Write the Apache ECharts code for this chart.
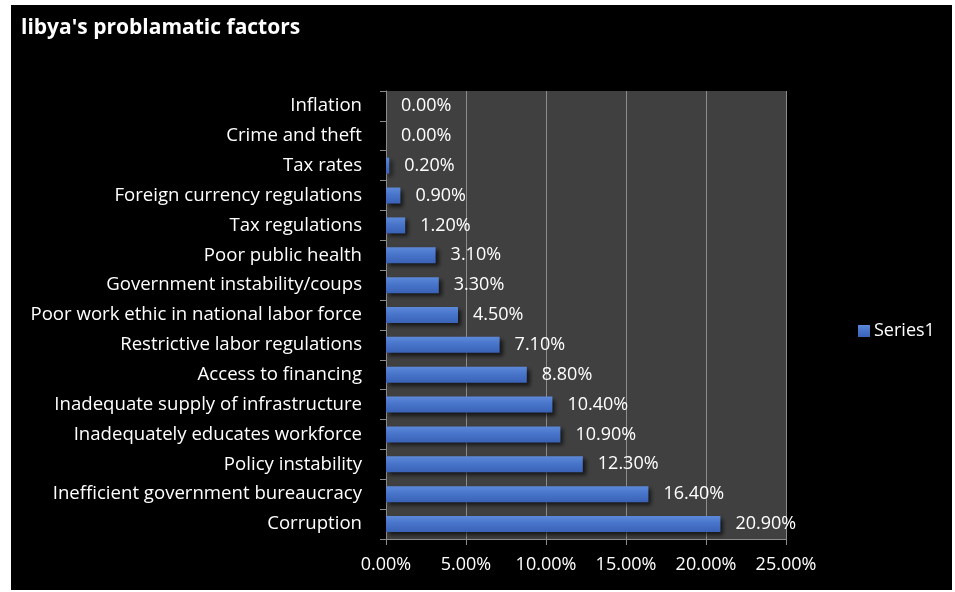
<!DOCTYPE html>
<html>
<head>
<meta charset="utf-8">
<script src="https://cdn.jsdelivr.net/npm/echarts@6/dist/echarts.min.js"></script>
<style>
  html, body { margin: 0; padding: 0; background: #ffffff; }
  #chart { width: 955px; height: 592px; }
</style>
</head>
<body>
<div id="chart"></div>
<script>
// Problematic factors for doing business in Libya (share of responses, %)
const factors = [
  'Inflation',
  'Crime and theft',
  'Tax rates',
  'Foreign currency regulations',
  'Tax regulations',
  'Poor public health',
  'Government instability/coups',
  'Poor work ethic in national labor force',
  'Restrictive labor regulations',
  'Access to financing',
  'Inadequate supply of infrastructure',
  'Inadequately educates workforce',
  'Policy instability',
  'Inefficient government bureaucracy',
  'Corruption'
];
const series1 = [0.0, 0.0, 0.2, 0.9, 1.2, 3.1, 3.3, 4.5, 7.1, 8.8, 10.4, 10.9, 12.3, 16.4, 20.9];
const xTicks = [0, 5, 10, 15, 20, 25];

const FONT = '"Open Sans", "Liberation Sans", sans-serif';
const chart = echarts.init(document.getElementById('chart'), null, { renderer: 'canvas' });

chart.setOption({
  backgroundColor: '#ffffff',
  animation: false,
  textStyle: { fontFamily: FONT },
  graphic: [{
    type: 'rect',
    z: -10,
    shape: { x: 11, y: 5, width: 941, height: 585 },
    style: { fill: '#000000' },
    silent: true
  }],
  title: {
    text: "libya's problamatic factors",
    left: 16,
    top: 13,
    textStyle: { color: '#ffffff', fontSize: 21, fontWeight: 'bold', fontFamily: FONT }
  },
  legend: {
    left: 853,
    top: 317,
    orient: 'vertical',
    icon: 'rect',
    itemWidth: 12,
    itemHeight: 12,
    itemGap: 6,
    textStyle: { color: '#ffffff', fontSize: 18, fontFamily: FONT, padding: [0, 0, 0, -1] },
    data: ['Series1']
  },
  grid: {
    left: 386,
    top: 91,
    width: 400,
    height: 448,
    show: true,
    backgroundColor: '#404040',
    borderWidth: 0,
    containLabel: false
  },
  xAxis: {
    type: 'value',
    min: xTicks[0],
    max: xTicks[xTicks.length - 1],
    interval: xTicks[1] - xTicks[0],
    axisLine: { show: true, lineStyle: { color: '#8c8c8c', width: 1 } },
    axisTick: { show: true, length: 6, lineStyle: { color: '#8c8c8c' } },
    splitLine: { show: true, lineStyle: { color: '#8c8c8c', width: 1 } },
    axisLabel: {
      color: '#ffffff',
      fontSize: 18,
      fontFamily: FONT,
      margin: 17,
      formatter: v => v.toFixed(2) + '%'
    }
  },
  yAxis: {
    type: 'category',
    inverse: true,
    data: factors,
    axisLine: { show: true, lineStyle: { color: '#8c8c8c', width: 1 } },
    axisTick: { show: true, length: 6, lineStyle: { color: '#8c8c8c' } },
    splitLine: { show: false },
    axisLabel: {
      color: '#ffffff',
      fontSize: 18.6,
      fontFamily: FONT,
      margin: 24
    }
  },
  series: [{
    name: 'Series1',
    type: 'bar',
    data: series1,
    barWidth: 16,
    itemStyle: {
      color: new echarts.graphic.LinearGradient(0, 0, 0, 1, [
        { offset: 0, color: '#5d89da' },
        { offset: 0.5, color: '#4673c8' },
        { offset: 1, color: '#3a62b6' }
      ]),
      shadowColor: 'rgba(0,0,0,0.65)',
      shadowBlur: 4,
      shadowOffsetX: 3,
      shadowOffsetY: 3
    },
    label: {
      show: true,
      position: 'right',
      distance: 15,
      color: '#ffffff',
      fontSize: 18,
      fontFamily: FONT,
      formatter: p => p.value.toFixed(2) + '%'
    }
  }]
});
</script>
</body>
</html>
